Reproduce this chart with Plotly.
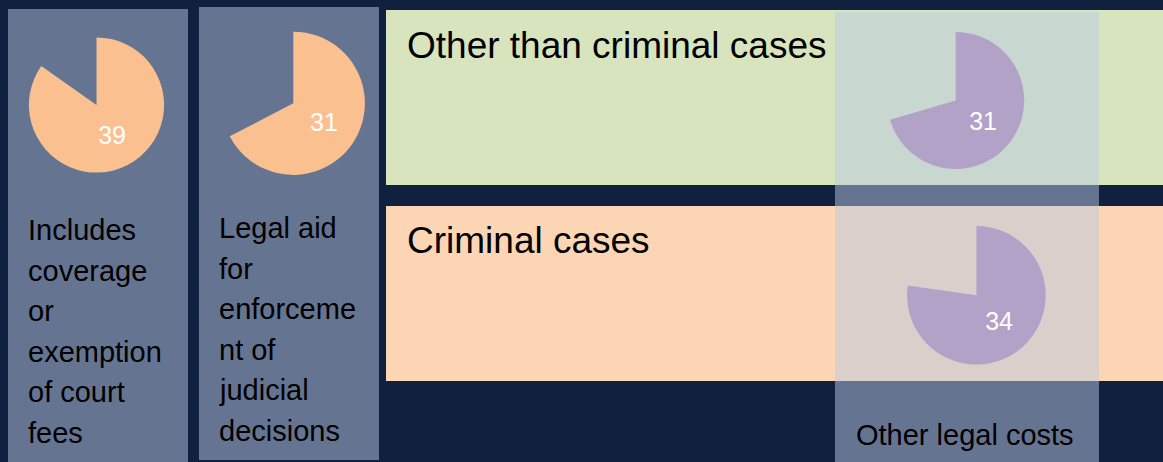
import plotly.graph_objects as go

W, H = 1163, 462

# rows / columns of the matrix
row_labels = ["Other than criminal cases", "Criminal cases"]
col_lines = [
    ["Includes", "coverage", "or", "exemption", "of court", "fees"],
    ["Legal aid", "for", "enforceme", "nt of", "judicial", "decisions"],
]
bottom_label = "Other legal costs"

# pie values (count) and totals they are shown against
pie_values = [39, 31, 31, 34]
pie_totals = [46, 46, 44, 44]
pie_colors = ["#fac090", "#fac090", "#b3a2c7", "#b3a2c7"]

# pixel layout: pie centre x, centre y, radius
pie_geom = [(96.5, 105, 67.6), (293.3, 103.3, 71.6), (955.7, 100.5, 68.5), (976.4, 295.3, 69.3)]
col_boxes = [(8, 9, 188, 462), (199, 7, 379, 460), (835, 12, 1099, 462)]
band_boxes = [(386, 10, 1163, 185), (386, 206, 1163, 381)]
band_colors = ["#d7e4bd", "#fcd5b5"]

FONT = "Arial, Liberation Sans, sans-serif"


def px(x):
    return x / W


def py(y):
    return 1 - y / H


fig = go.Figure()

for v, t, c, (cx, cy, r) in zip(pie_values, pie_totals, pie_colors, pie_geom):
    fig.add_trace(go.Pie(
        values=[v, t - v],
        marker=dict(colors=[c, "rgba(0,0,0,0)"], line=dict(width=0)),
        texttemplate=["%{value}", ""],
        textposition="inside",
        insidetextorientation="horizontal",
        textfont=dict(size=25, color="white", family=FONT),
        sort=False,
        direction="clockwise",
        rotation=0,
        hoverinfo="skip",
        showlegend=False,
        domain=dict(x=[px(cx - r), px(cx + r)], y=[py(cy + r), py(cy - r)]),
    ))

shapes = []
for (x0, y0, x1, y1), col in zip(band_boxes, band_colors):
    shapes.append(dict(type="rect", xref="paper", yref="paper", layer="below",
                       x0=px(x0), x1=px(x1), y0=py(y1), y1=py(y0),
                       fillcolor=col, line=dict(width=0)))
for (x0, y0, x1, y1) in col_boxes:
    shapes.append(dict(type="rect", xref="paper", yref="paper", layer="below",
                       x0=px(x0), x1=px(x1), y0=py(y1), y1=py(y0),
                       fillcolor="rgba(185,202,228,0.5)", line=dict(width=0)))

annotations = []
# row titles
for lab, yc in zip(row_labels, [46, 240.5]):
    annotations.append(dict(text=lab, xref="paper", yref="paper", x=px(405), y=py(yc),
                            xanchor="left", yanchor="middle", showarrow=False,
                            font=dict(size=37, color="black", family=FONT)))
# wrapped column titles, one line each
for lines, (x0, y_first) in zip(col_lines, [(26, 230), (217, 228)]):
    for i, ln in enumerate(lines):
        annotations.append(dict(text=ln, xref="paper", yref="paper", x=px(x0), y=py(y_first + i * 40.6),
                                xanchor="left", yanchor="middle", showarrow=False,
                                font=dict(size=29, color="black", family=FONT)))
annotations.append(dict(text=bottom_label, xref="paper", yref="paper", x=px(965), y=py(434.5),
                        xanchor="center", yanchor="middle", showarrow=False,
                        font=dict(size=29, color="black", family=FONT)))

fig.update_layout(
    width=W, height=H,
    margin=dict(l=0, r=0, t=0, b=0),
    paper_bgcolor="#10203f",
    plot_bgcolor="#10203f",
    shapes=shapes,
    annotations=annotations,
)

# drop the browser's default page margin so the figure fills the window
fig.write_html("out.html", config={"displayModeBar": False},
               post_script="document.body.style.margin='0';")
